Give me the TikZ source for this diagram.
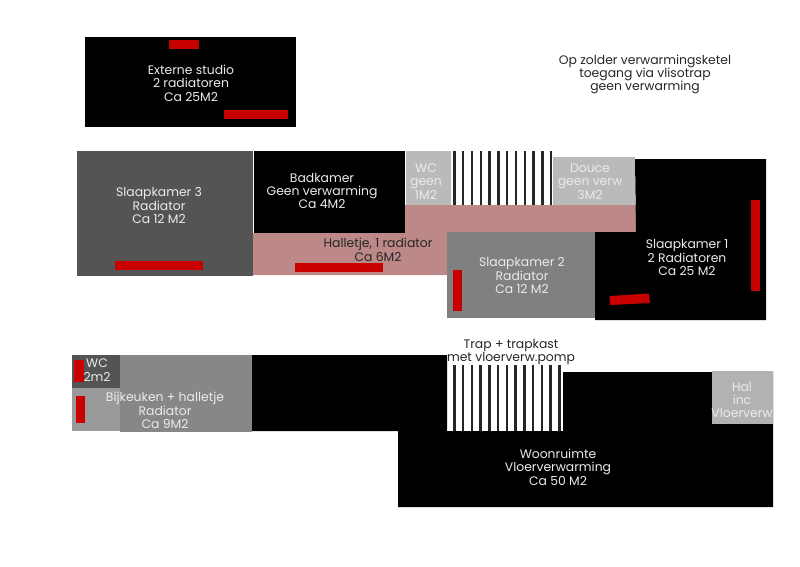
\documentclass[tikz,border=0pt]{standalone}
\usepackage{fontspec}
\setmainfont{Poppins}
\usepackage{xcolor}
\definecolor{radiator}{HTML}{C80000}
\definecolor{halpink}{HTML}{BC8888}
\tikzset{
    roomtext/.style={align=center, text=white!92!black, inner sep=0pt, font=\fontsize{7.05}{7.6}\selectfont},
    darktext/.style={roomtext, text=black!85},
    radbar/.style={fill=radiator, draw=none}
}
\begin{document}
\begin{tikzpicture}[x=0.02cm, y=-0.02cm]
    \useasboundingbox (0,0) rectangle (800,566);

    % Externe studio
    \fill[black] (85,37) rectangle (296,127);
    \fill[radbar] (169,40) rectangle (199,49);
    \fill[radbar] (224,110) rectangle (288,119);
    \node[roomtext] (studio) at (191,83) {Externe studio\\2 radiatoren\\Ca 25M2};

    % Zolder
    \node[darktext] (zolder) at (645,74.5) {Op zolder verwarmingsketel\\toegang via vlisotrap\\geen verwarming};

    % Verdieping
    \fill[black!67] (77,151) rectangle (253,276);
    \fill[radbar] (115,261) rectangle (203,270);
    \node[roomtext] (slaap3) at (159,205.5) {Slaapkamer 3\\Radiator\\Ca 12 M2};

    \fill[halpink] (253,233) -- (405,233) -- (405,205) -- (636,205) -- (636,232) -- (447,232) -- (447,275) -- (253,275) -- cycle;
    \fill[radbar] (295,263) rectangle (383,272);
    \node[darktext] (halletje) at (378,250) {Halletje, 1 radiator\\Ca 6M2};

    \fill[black] (254,151) rectangle (405,233);
    \node[roomtext] (badkamer) at (322,191) {Badkamer\\Geen verwarming\\Ca 4M2};

    \fill[black!27] (406,151) rectangle (451,205);
    \node[roomtext] (wcboven) at (426,181.5) {WC\\geen\\1M2};

    % Trap boven
    \foreach \i in {0,...,11}
        \fill[black!85] (454.3+8.8*\i-1.2,151) rectangle (454.3+8.8*\i+1.2,205);

    \fill[black!27] (553,157) rectangle (635,205);
    \node[roomtext] (douche) at (590,181.5) {Douce\\geen verw\\3M2};

    \fill[black] (635,159) -- (766,159) -- (766,320) -- (595,320) -- (595,232) -- (636,232) -- cycle;
    \fill[radbar] (751,200) rectangle (760,291);
    \fill[radbar] (609.5,296) -- (649,293.5) -- (650,303) -- (610,305) -- cycle;
    \node[roomtext] (slaap1) at (687,257.5) {Slaapkamer 1\\2 Radiatoren\\Ca 25 M2};

    \fill[black!50] (447,232) rectangle (595,318);
    \fill[radbar] (453,270) rectangle (462,311);
    \node[roomtext] (slaap2) at (522,275.5) {Slaapkamer 2\\Radiator\\Ca 12 M2};

    % Begane grond
    \fill[black] (252,355) -- (447,355) -- (447,431) -- (563,431) -- (563,372) -- (773,372) -- (773,507) -- (398,507) -- (398,431) -- (252,431) -- cycle;
    \fill[black!47] (120,355) rectangle (252,432);
    \fill[black!40] (72,388) rectangle (120,431);
    \fill[black!67] (72,355) rectangle (120,388);
    \fill[radbar] (74,360) rectangle (84,382);
    \fill[radbar] (76,396) rectangle (85,423);
    \node[roomtext] (wconder) at (97,370) {WC\\2m2};
    \node[roomtext] (bijkeuken) at (165,410.5) {Bijkeuken + halletje\\Radiator\\Ca 9M2};

    % Trap onder
    \foreach \i in {0,...,12}
        \fill[black!85] (454.3+8.75*\i-1.2,365) rectangle (454.3+8.75*\i+1.2,431);
    \node[darktext] (trap) at (511,352) {Trap + trapkast\\met vloerverw.pomp};

    \fill[black!30] (712,371) rectangle (773,424);
    \node[roomtext] (hal) at (742,400) {Hal\\inc\\Vloerverw};
    \node[roomtext] (woon) at (558,467) {Woonruimte\\Vloerverwarming\\Ca 50 M2};
\end{tikzpicture}
\end{document}
